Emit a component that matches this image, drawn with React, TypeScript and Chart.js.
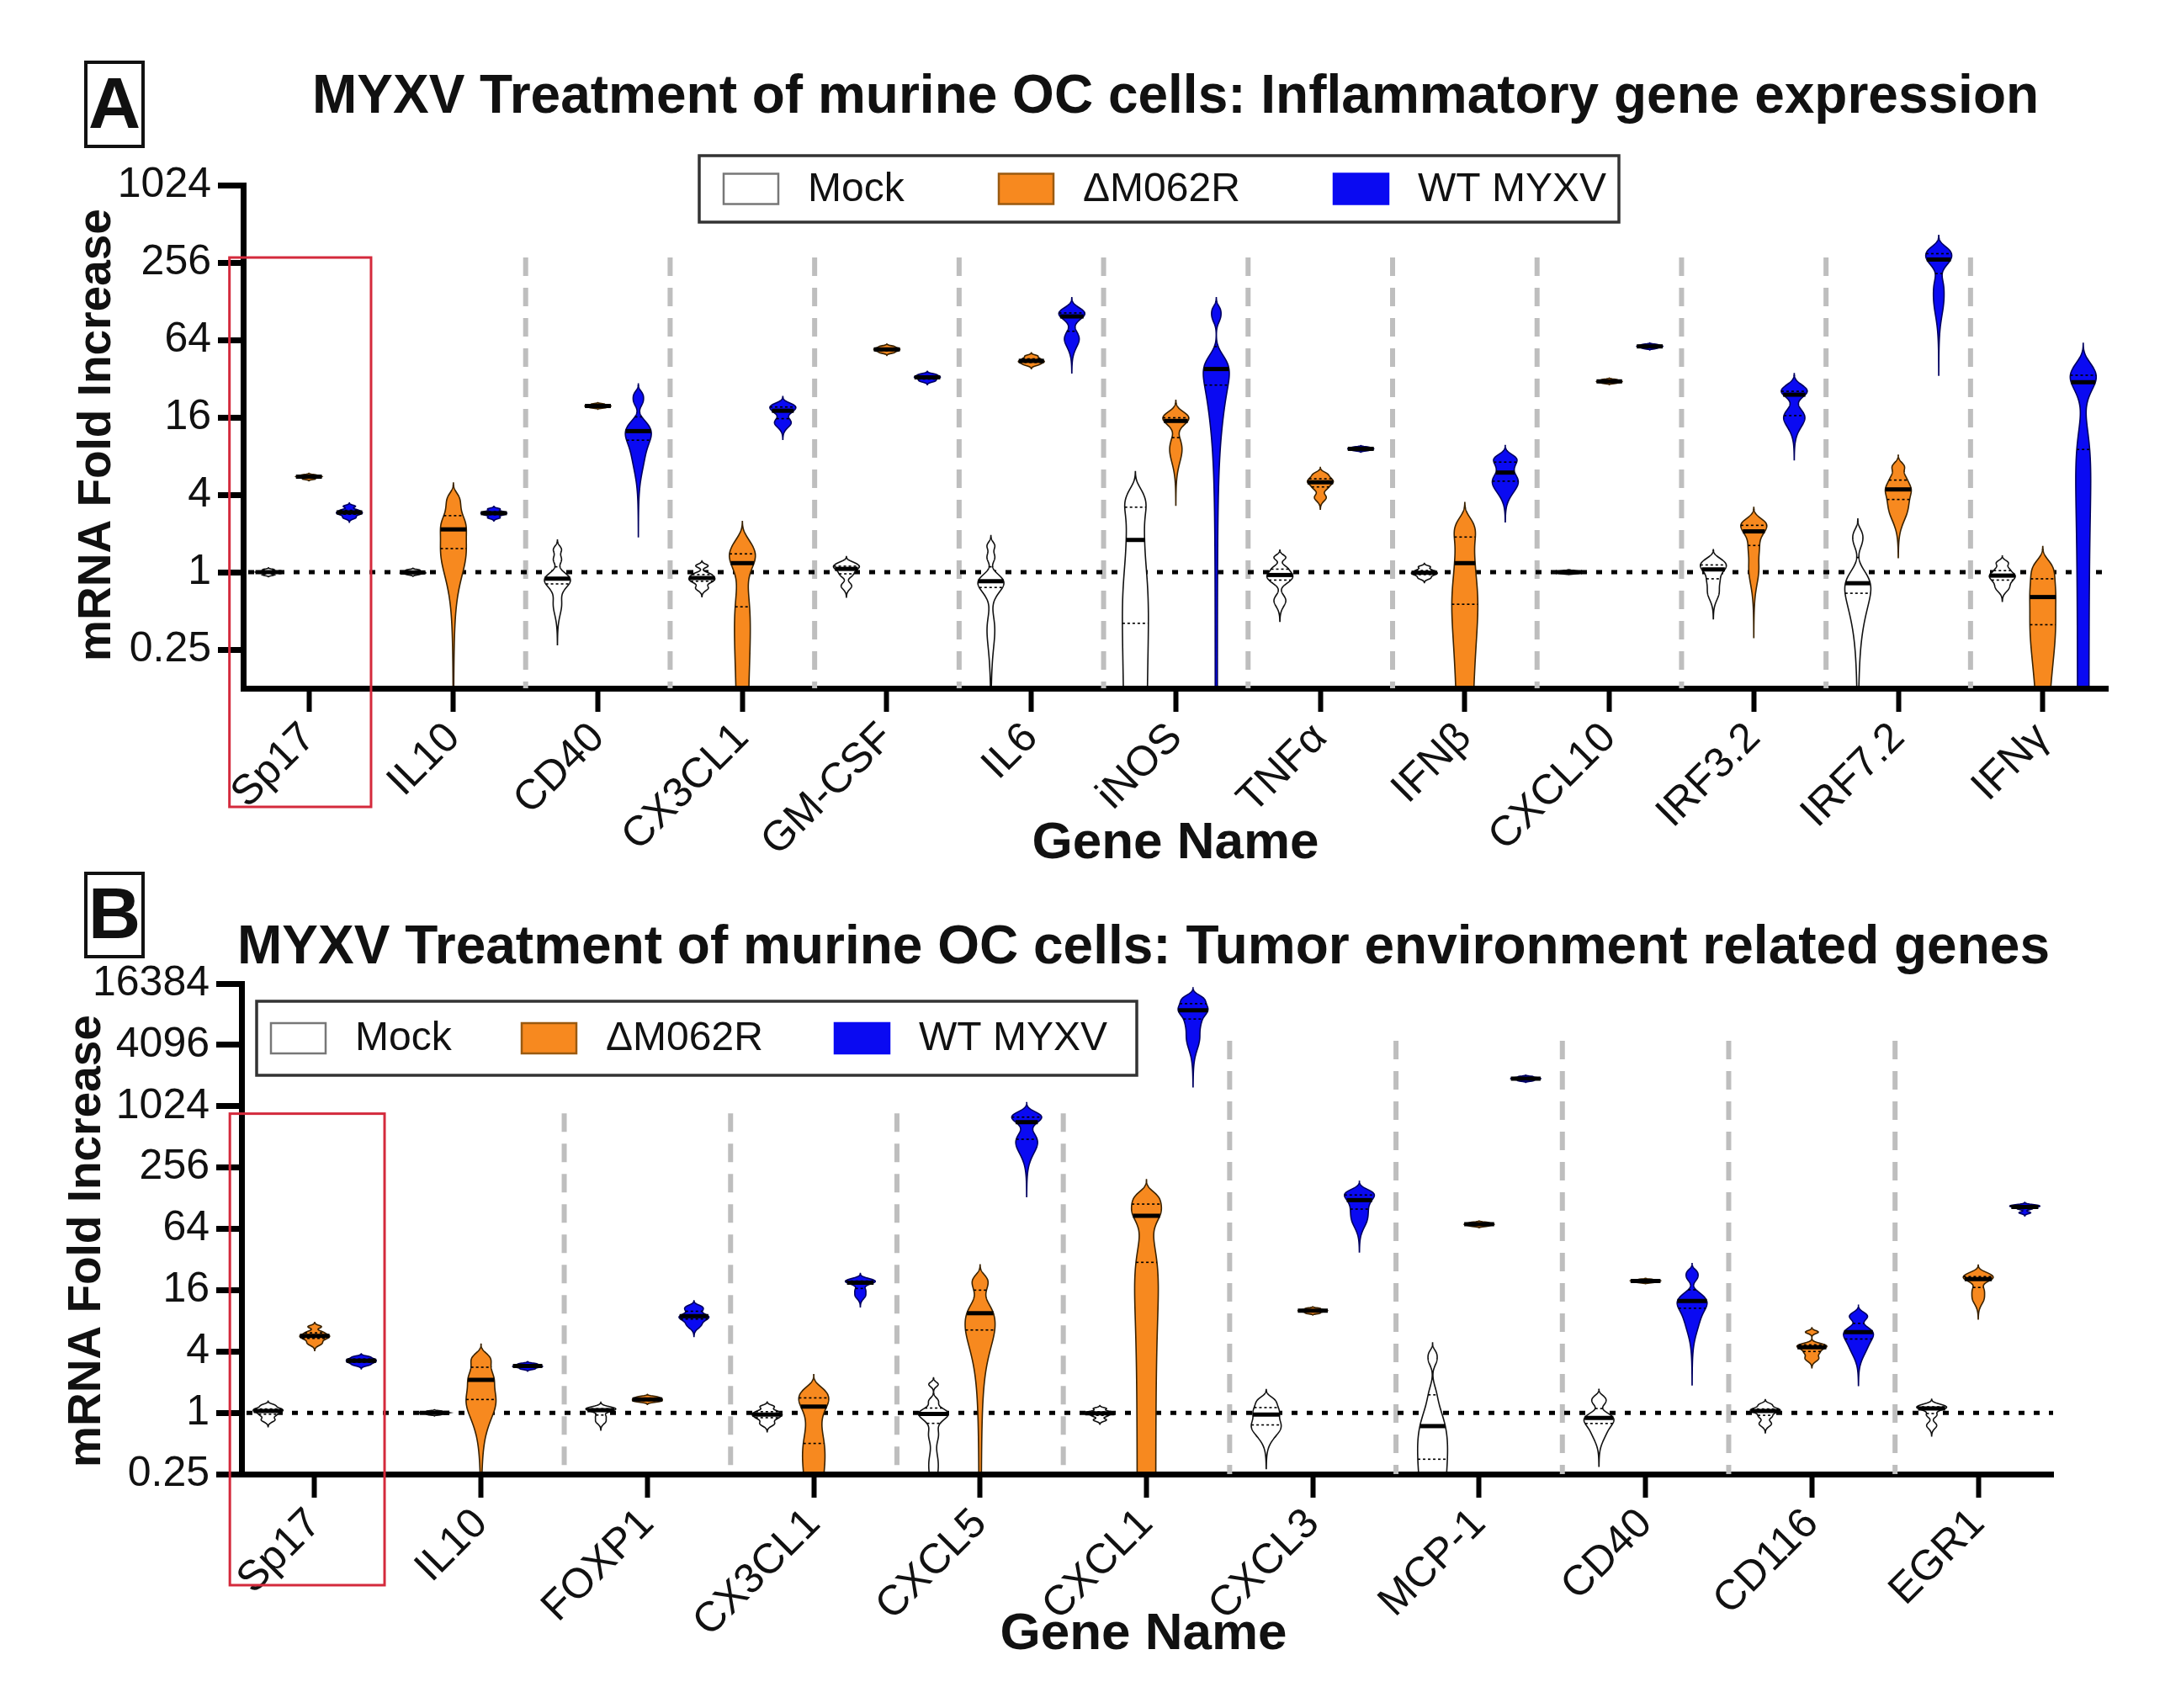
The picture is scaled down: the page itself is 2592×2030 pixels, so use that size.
import React, { useEffect, useRef } from "react";
import { Chart, registerables } from "chart.js";

Chart.register(...registerables);

// ---------------- DATA ----------------
const GROUPS = ["Mock", "ΔM062R", "WT MYXV"];

const GENES_A = ["Sp17", "IL10", "CD40", "CX3CL1", "GM-CSF", "IL6", "iNOS", "TNFα", "IFNβ", "CXCL10", "IRF3.2", "IRF7.2", "IFNγ"];
const Y_TICKS_A = [0.25, 1, 4, 16, 64, 256, 1024];

// estimated replicate fold-change values per gene (panel A)
const A_MOCK = [
  [0.95, 0.98, 1.0, 1.0, 1.02, 1.05],
  [0.96, 0.98, 0.99, 1.0, 1.02, 1.04],
  [0.55, 0.78, 0.84, 0.89, 0.95, 1.25, 1.5],
  [0.75, 0.84, 0.88, 0.92, 0.97, 1.12],
  [0.78, 0.95, 1.03, 1.09, 1.12, 1.18],
  [0.35, 0.72, 0.8, 0.85, 0.9, 1.3, 1.6],
  [0.1, 0.25, 0.4, 1.2, 1.78, 2.5, 3.2, 3.5, 4.2],
  [0.6, 0.85, 0.92, 0.98, 1.08, 1.3],
  [0.9, 0.95, 0.98, 1.0, 1.04, 1.1],
  [0.97, 0.99, 1.0, 1.0, 1.01, 1.03],
  [0.68, 0.85, 1.0, 1.1, 1.15, 1.25],
  [0.45, 0.62, 0.75, 0.82, 0.9, 1.7, 2.0],
  [0.75, 0.85, 0.92, 0.96, 1.05, 1.18],
];
const A_DELTA = [
  [5.3, 5.42, 5.5, 5.55, 5.62, 5.72],
  [1.0, 1.3, 1.6, 2.0, 2.3, 2.6, 3.2, 3.8],
  [19, 19.3, 19.5, 19.7, 19.9, 20.3],
  [0.1, 0.35, 0.6, 1.1, 1.25, 1.35, 1.5, 1.75],
  [51, 52.5, 53.5, 54.5, 55.5, 57],
  [41, 42.5, 43.5, 44.5, 46, 48],
  [8, 10, 14.5, 15.5, 16, 17],
  [3.8, 4.5, 4.9, 5.1, 5.4, 5.8],
  [0.15, 0.45, 0.6, 1.0, 1.35, 1.8, 2.1, 2.45],
  [29.5, 30, 30.3, 30.6, 31, 31.5],
  [1.0, 1.5, 1.95, 2.2, 2.35, 2.5],
  [2.8, 3.5, 4.2, 4.6, 5.4, 6.6],
  [0.15, 0.3, 0.42, 0.58, 0.7, 0.85, 1.0, 1.15],
];
const A_WT = [
  [2.65, 2.8, 2.88, 2.95, 3.05, 3.25],
  [2.65, 2.78, 2.85, 2.9, 2.97, 3.1],
  [7, 9.5, 11, 12, 13, 14.5, 21, 24],
  [14, 15, 17.5, 18.5, 19.5, 20],
  [30.5, 31.5, 32.5, 33, 33.8, 34.7],
  [62, 68, 95, 100, 105, 110],
  [14, 24, 30, 36, 40, 44, 95, 110],
  [8.8, 8.95, 9.05, 9.15, 9.25, 9.4],
  [4.3, 5.0, 5.4, 6.5, 7.4, 7.8],
  [55, 56, 56.7, 57.3, 58, 59],
  [14.5, 16, 17, 24, 25, 26, 28],
  [120, 170, 250, 270, 290, 310, 330],
  [1.5, 5, 9, 27, 30, 32, 34, 37, 42],
];

const GENES_B = ["Sp17", "IL10", "FOXP1", "CX3CL1", "CXCL5", "CXCL1", "CXCL3", "MCP-1", "CD40", "CD116", "EGR1"];
const Y_TICKS_B = [0.25, 1, 4, 16, 64, 256, 1024, 4096, 16384];

const B_MOCK = [
  [0.85, 0.95, 1.02, 1.06, 1.1, 1.18],
  [0.96, 0.98, 1.0, 1.0, 1.02, 1.04],
  [0.82, 0.92, 1.04, 1.08, 1.1, 1.13],
  [0.78, 0.88, 0.94, 0.98, 1.04, 1.15],
  [0.3, 0.6, 0.85, 0.95, 1.0, 1.05, 1.3, 1.9],
  [0.85, 0.93, 0.98, 1.0, 1.03, 1.1],
  [0.62, 0.72, 0.8, 0.96, 1.05, 1.2, 1.35],
  [0.1, 0.2, 0.35, 0.5, 0.74, 0.9, 1.5, 3.2, 3.8],
  [0.6, 0.75, 0.82, 0.89, 0.95, 1.25, 1.4],
  [0.78, 0.92, 1.02, 1.06, 1.1, 1.2],
  [0.75, 0.95, 1.08, 1.12, 1.15, 1.2],
];
const B_DELTA = [
  [4.8, 5.3, 5.6, 5.8, 6.2, 7.0],
  [1.0, 1.15, 1.35, 1.75, 2.1, 2.3, 2.8, 3.25, 3.6],
  [1.28, 1.31, 1.34, 1.37, 1.4, 1.44],
  [0.2, 0.35, 0.5, 0.85, 1.15, 1.25, 1.4, 1.55, 1.7],
  [4.5, 5.5, 6.5, 8.5, 9.5, 11, 16, 19, 21],
  [3, 8, 15, 30, 45, 78, 86, 92, 100, 112, 125, 130, 140],
  [9.5, 9.8, 10, 10.1, 10.3, 10.6],
  [68, 69.5, 70.5, 71.5, 72.5, 74],
  [19.0, 19.4, 19.6, 19.8, 20, 20.4],
  [3.4, 3.9, 4.3, 4.5, 4.7, 6.2],
  [13, 16, 20, 21, 22, 23.5],
];
const B_WT = [
  [2.95, 3.1, 3.2, 3.3, 3.4, 3.55],
  [2.7, 2.8, 2.85, 2.9, 2.97, 3.05],
  [7.2, 8.2, 8.7, 9.1, 10.2, 11],
  [14, 16, 18.5, 19.3, 19.8, 20.3],
  [380, 450, 520, 714, 780, 820, 860],
  [4500, 6500, 8200, 8950, 9800, 11000, 12000],
  [75, 95, 115, 130, 140, 150],
  [1820, 1870, 1900, 1925, 1950, 2000],
  [7, 9.5, 11, 12, 13, 14.5, 21, 24],
  [4.0, 5.0, 5.6, 6.2, 6.6, 8.5, 9.2],
  [92, 100, 104, 106, 108, 110],
];

// ---------------- STYLE / LAYOUT ----------------
const W = 2592;
const FONT = '"Liberation Sans", Arial, Helvetica, sans-serif';
const FILLS = ["#FFFFFF", "#F7891F", "#0A0AF2"];
const EDGES = ["#111111", "#3a2200", "#000060"];
const OFFSETS = [-0.28, 0, 0.28];
const HALF_W = 0.09; // fraction of one category
const BW_SCALE = 0.7;

const PANEL_A = {
  letter: "A",
  title: "MYXV Treatment of murine OC cells: Inflammatory gene expression",
  genes: GENES_A,
  yTicks: Y_TICKS_A,
  yMin: 0.125,
  yMax: 1024,
  xMin: -0.455,
  xMax: 12.45,
  series: [A_MOCK, A_DELTA, A_WT],
  height: 1035,
  area: { left: 289, right: 2505, top: 220, bottom: 818 },
  titleX: 1397,
  titleY: 116,
  letterBox: { x: 102, y: 74, w: 68, h: 100 },
  legendBox: { x: 831, y: 185, w: 1093, h: 79 },
  legendItems: [29, 356, 754],
  yTitle: { x: 116, y: 517 },
  xTitle: { x: 1397, y: 1003 },
  sepTops: [280, 280, 280, 280, 280, 280, 280, 280, 280, 280, 280],
  redBox: { x0: -0.55, x1: 0.43, yTop: 280, below: 141 },
};

const PANEL_B = {
  letter: "B",
  title: "MYXV Treatment of murine OC cells: Tumor environment related genes",
  genes: GENES_B,
  yTicks: Y_TICKS_B,
  yMin: 0.25,
  yMax: 16384,
  xMin: -0.44,
  xMax: 10.45,
  series: [B_MOCK, B_DELTA, B_WT],
  height: 995,
  area: { left: 287, right: 2440, top: 134, bottom: 717 },
  titleX: 1359,
  titleY: 92,
  letterBox: { x: 102, y: 3, w: 68, h: 99 },
  legendBox: { x: 305, y: 155, w: 1046, h: 88 },
  legendItems: [17, 315, 687],
  yTitle: { x: 104, y: 440 },
  xTitle: { x: 1359, y: 908 },
  sepTops: [870, 870, 870, 870, 4500, 4500, 4500, 4500, 4500],
  redBox: { x0: -0.51, x1: 0.42, yTop: 865, below: 132 },
};

// ---------------- HELPERS ----------------
function stats(pts: number[]) {
  const s = [...pts].sort((a, b) => a - b);
  const n = s.length;
  const q = (p: number) => {
    const pos = (n - 1) * p;
    const lo = Math.floor(pos);
    const hi = Math.ceil(pos);
    return s[lo] + (s[hi] - s[lo]) * (pos - lo);
  };
  const mean = s.reduce((a, b) => a + b, 0) / n;
  const sd = Math.sqrt(s.reduce((a, b) => a + (b - mean) ** 2, 0) / (n - 1));
  const iqr = q(0.75) - q(0.25);
  let spread = Math.min(sd, iqr / 1.34);
  if (!(spread > 0)) spread = sd > 0 ? sd : Math.abs(mean) * 0.02;
  const h = 0.9 * spread * Math.pow(n, -0.2) * BW_SCALE;
  const lo = s[0] - 3 * h;
  const hi = s[n - 1] + 3 * h;
  const dens = (v: number) => {
    let acc = 0;
    for (const x of s) acc += Math.exp(-0.5 * ((v - x) / h) ** 2);
    return acc;
  };
  let dmax = 0;
  for (let i = 0; i <= 800; i++) {
    const v = lo + ((hi - lo) * i) / 800;
    dmax = Math.max(dmax, dens(v));
  }
  return { median: q(0.5), q1: q(0.25), q3: q(0.75), lo, hi, dens, dmax };
}

function makePlugin(cfg: any) {
  return {
    id: "violinPanel" + cfg.letter,
    beforeDatasetsDraw(chart: any) {
      const ctx = chart.ctx;
      const xs = chart.scales.x;
      const ys = chart.scales.y;
      const ca = chart.chartArea;
      ctx.save();
      // dashed separators
      ctx.strokeStyle = "#BEBEBE";
      ctx.lineWidth = 6;
      ctx.setLineDash([22, 14]);
      cfg.sepTops.forEach((top: number, i: number) => {
        const x = xs.getPixelForValue(i + 1.5);
        ctx.beginPath();
        ctx.moveTo(x, ys.getPixelForValue(top));
        ctx.lineTo(x, ca.bottom);
        ctx.stroke();
      });
      // dotted line at 1
      ctx.strokeStyle = "#000";
      ctx.lineWidth = 5;
      ctx.setLineDash([7, 11]);
      const y1 = ys.getPixelForValue(1);
      ctx.beginPath();
      ctx.moveTo(ca.left + 6, y1);
      ctx.lineTo(ca.right, y1);
      ctx.stroke();
      ctx.restore();
    },
    afterDatasetsDraw(chart: any) {
      const ctx = chart.ctx;
      const xs = chart.scales.x;
      const ys = chart.scales.y;
      const ca = chart.chartArea;
      const halfW = Math.abs(xs.getPixelForValue(1) - xs.getPixelForValue(0)) * HALF_W;
      ctx.save();
      ctx.beginPath();
      ctx.rect(ca.left + 4, 0, ca.right - ca.left, ca.bottom - 3);
      ctx.clip();
      cfg.series.forEach((groupData: number[][], g: number) => {
        groupData.forEach((pts: number[], i: number) => {
          const st = stats(pts);
          const cx = xs.getPixelForValue(i + OFFSETS[g]);
          const yTop = ys.getPixelForValue(st.hi);
          const yBot = st.lo > 0 ? Math.min(ys.getPixelForValue(st.lo), ca.bottom + 2) : ca.bottom + 2;
          const rows: [number, number][] = [];
          for (let py = yTop; py < yBot; py += 0.5) {
            const v = ys.getValueForPixel(py);
            rows.push([py, (halfW * st.dens(v)) / st.dmax]);
          }
          rows.push([yBot, (halfW * st.dens(ys.getValueForPixel(yBot))) / st.dmax]);
          ctx.beginPath();
          rows.forEach(([py, w], k) => (k ? ctx.lineTo(cx + w, py) : ctx.moveTo(cx + w, py)));
          for (let k = rows.length - 1; k >= 0; k--) ctx.lineTo(cx - rows[k][1], rows[k][0]);
          ctx.closePath();
          ctx.fillStyle = FILLS[g];
          ctx.fill();
          ctx.strokeStyle = EDGES[g];
          ctx.lineWidth = 1.6;
          ctx.setLineDash([]);
          ctx.stroke();
          // quartiles
          ctx.lineWidth = 1.6;
          ctx.setLineDash([3, 3]);
          ctx.strokeStyle = "#000";
          [st.q1, st.q3].forEach((qv) => {
            const w = (halfW * st.dens(qv)) / st.dmax;
            const py = ys.getPixelForValue(qv);
            ctx.beginPath();
            ctx.moveTo(cx - w, py);
            ctx.lineTo(cx + w, py);
            ctx.stroke();
          });
          // median
          ctx.setLineDash([]);
          ctx.lineWidth = 5;
          const wm = Math.max(4, (halfW * st.dens(st.median)) / st.dmax);
          const pm = ys.getPixelForValue(st.median);
          ctx.beginPath();
          ctx.moveTo(cx - wm, pm);
          ctx.lineTo(cx + wm, pm);
          ctx.stroke();
        });
      });
      ctx.restore();
    },
    afterDraw(chart: any) {
      const ctx = chart.ctx;
      const xs = chart.scales.x;
      const ys = chart.scales.y;
      const ca = chart.chartArea;
      ctx.save();
      ctx.setLineDash([]);
      // letter box
      const lb = cfg.letterBox;
      ctx.strokeStyle = "#111";
      ctx.lineWidth = 4;
      ctx.strokeRect(lb.x, lb.y, lb.w, lb.h);
      ctx.fillStyle = "#111";
      ctx.font = `bold 86px ${FONT}`;
      ctx.textAlign = "center";
      ctx.textBaseline = "middle";
      ctx.fillText(cfg.letter, lb.x + lb.w / 2, lb.y + lb.h / 2 + 4);
      // title
      ctx.font = `bold 64px ${FONT}`;
      ctx.fillText(cfg.title, cfg.titleX, cfg.titleY);
      // axis titles
      ctx.font = `bold 62px ${FONT}`;
      ctx.fillText("Gene Name", cfg.xTitle.x, cfg.xTitle.y);
      ctx.save();
      ctx.translate(cfg.yTitle.x, cfg.yTitle.y);
      ctx.rotate(-Math.PI / 2);
      ctx.font = `bold 55px ${FONT}`;
      ctx.fillText("mRNA Fold Increase", 0, 0);
      ctx.restore();
      // legend
      const lg = cfg.legendBox;
      ctx.fillStyle = "#fff";
      ctx.fillRect(lg.x, lg.y, lg.w, lg.h);
      ctx.strokeStyle = "#333";
      ctx.lineWidth = 3.5;
      ctx.strokeRect(lg.x, lg.y, lg.w, lg.h);
      const midY = lg.y + lg.h / 2;
      chart.data.datasets.forEach((ds: any, g: number) => {
        const sx = lg.x + cfg.legendItems[g];
        ctx.fillStyle = FILLS[g];
        ctx.fillRect(sx, midY - 18, 65, 36);
        ctx.strokeStyle = g === 0 ? "#777" : g === 1 ? "#9a5a10" : "#0A0AF2";
        ctx.lineWidth = 2.5;
        ctx.strokeRect(sx, midY - 18, 65, 36);
        ctx.fillStyle = "#111";
        ctx.font = `48px ${FONT}`;
        ctx.textAlign = "left";
        ctx.textBaseline = "middle";
        ctx.fillText(ds.label, sx + 100, midY + 1);
      });
      // red highlight box
      const rb = cfg.redBox;
      ctx.strokeStyle = "#D42A3C";
      ctx.lineWidth = 3;
      const rx0 = xs.getPixelForValue(rb.x0);
      const rx1 = xs.getPixelForValue(rb.x1);
      const ry0 = ys.getPixelForValue(rb.yTop);
      const ry1 = ca.bottom + rb.below;
      ctx.strokeRect(rx0, ry0, rx1 - rx0, ry1 - ry0);
      ctx.restore();
    },
  };
}

function median(pts: number[]) {
  const s = [...pts].sort((a, b) => a - b);
  const m = (s.length - 1) / 2;
  return (s[Math.floor(m)] + s[Math.ceil(m)]) / 2;
}

function buildConfig(cfg: any): any {
  const Y_AXIS_W = 200;
  const X_AXIS_H = 200;
  const a = cfg.area;
  return {
    type: "scatter",
    data: {
      datasets: GROUPS.map((label, g) => ({
        label,
        data: cfg.series[g].map((pts: number[], i: number) => ({ x: i + OFFSETS[g], y: median(pts) })),
        pointRadius: 0,
        pointHoverRadius: 0,
        backgroundColor: FILLS[g],
        borderColor: EDGES[g],
      })),
    },
    options: {
      responsive: false,
      animation: false,
      devicePixelRatio: 1,
      events: [],
      layout: {
        padding: {
          left: a.left - Y_AXIS_W,
          right: W - a.right,
          top: a.top,
          bottom: cfg.height - a.bottom - X_AXIS_H,
        },
      },
      plugins: {
        legend: { display: false },
        title: { display: false },
        tooltip: { enabled: false },
      },
      scales: {
        x: {
          type: "linear",
          min: cfg.xMin,
          max: cfg.xMax,
          afterBuildTicks: (s: any) => {
            s.ticks = cfg.genes.map((_: string, i: number) => ({ value: i }));
          },
          afterFit: (s: any) => {
            s.height = X_AXIS_H;
          },
          ticks: {
            autoSkip: false,
            minRotation: 45,
            maxRotation: 45,
            padding: 2,
            color: "#111",
            font: { family: FONT, size: 50 },
            callback: (v: number) => cfg.genes[Math.round(v)] ?? "",
          },
          grid: { drawOnChartArea: false, drawTicks: true, tickLength: 28, tickWidth: 6, tickColor: "#000" },
          border: { display: true, color: "#000", width: 7 },
        },
        y: {
          type: "logarithmic",
          min: cfg.yMin,
          max: cfg.yMax,
          afterBuildTicks: (s: any) => {
            s.ticks = cfg.yTicks.map((v: number) => ({ value: v }));
          },
          afterFit: (s: any) => {
            s.width = Y_AXIS_W;
          },
          ticks: {
            padding: 8,
            color: "#111",
            font: { family: FONT, size: 50 },
            callback: (v: number) => String(v),
          },
          grid: { drawOnChartArea: false, drawTicks: true, tickLength: 30, tickWidth: 7, tickColor: "#000" },
          border: { display: true, color: "#000", width: 7 },
        },
      },
    },
    plugins: [makePlugin(cfg)],
  };
}

function Panel({ cfg, top }: { cfg: any; top: number }) {
  const ref = useRef<HTMLCanvasElement>(null);
  useEffect(() => {
    if (!ref.current) return;
    const chart = new Chart(ref.current, buildConfig(cfg));
    return () => chart.destroy();
  }, [cfg]);
  return (
    <canvas
      ref={ref}
      width={W}
      height={cfg.height}
      style={{ position: "absolute", left: 0, top, width: W, height: cfg.height, display: "block" }}
    />
  );
}

export default function App() {
  return (
    <div style={{ position: "absolute", left: 0, top: 0, width: W, height: 2030, background: "#fff" }}>
      <Panel cfg={PANEL_A} top={0} />
      <Panel cfg={PANEL_B} top={1035} />
    </div>
  );
}
